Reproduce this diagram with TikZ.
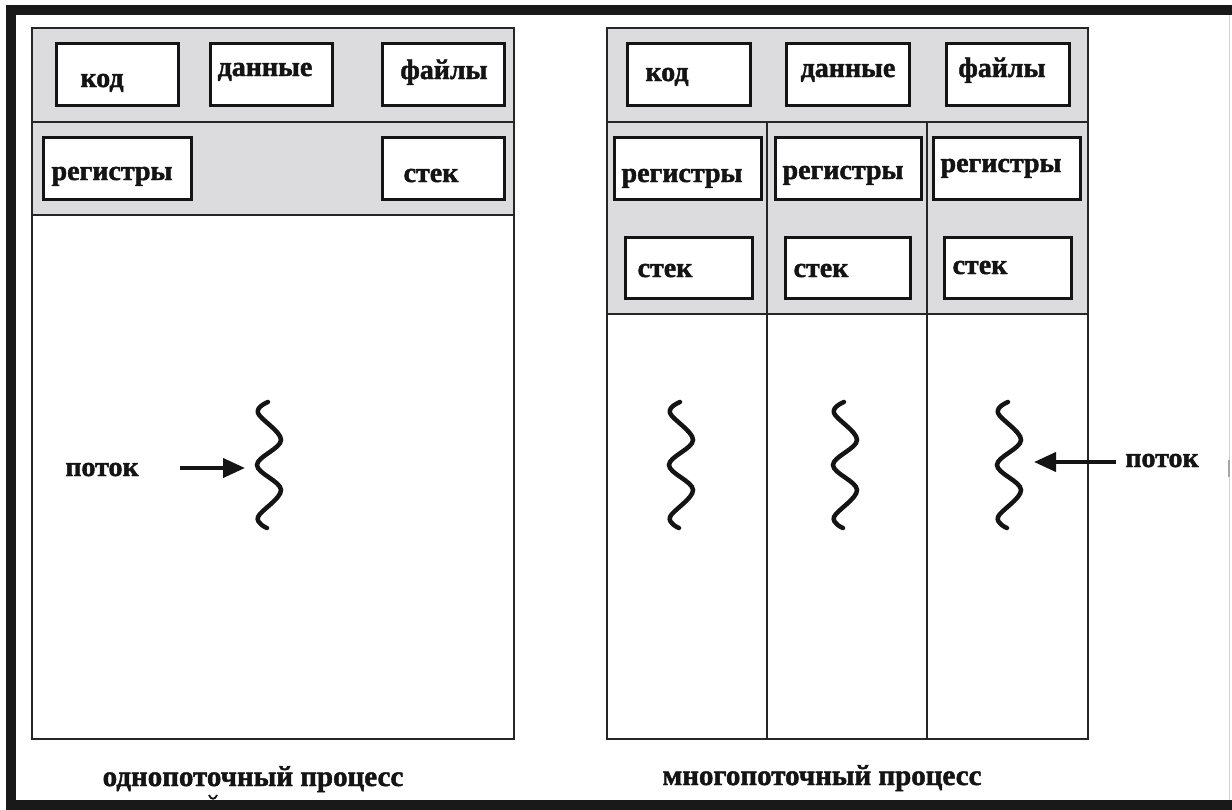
\documentclass[tikz,border=0pt]{standalone}
\usepackage{fontspec}
\setmainfont{Liberation Serif}[BoldFeatures={FakeBold=1.6}]
\usetikzlibrary{arrows.meta}
\definecolor{hdr}{RGB}{220,220,222}
\definecolor{ink}{RGB}{20,20,20}
\begin{document}
\begin{tikzpicture}[x=1pt,y=-1pt,
  proc/.style={draw=black!85,line width=2pt},
  box/.style={draw=ink,line width=3pt,fill=white,inner sep=0pt},
  lbl/.style={font=\fontsize{28}{30}\selectfont\bfseries,text=ink,anchor=base,inner sep=0pt},
  captxt/.style={font=\fontsize{29}{31}\selectfont\bfseries,text=ink,anchor=base,inner sep=0pt},
  wavy/.style={line width=4.5pt,line cap=round,draw=ink},
  arr/.style={line width=4pt,draw=ink,fill=ink,-{Triangle[length=22pt,width=19pt]}},
  wave/.pic={\draw[wavy] plot[smooth,tension=0.6] coordinates
     {(-1,-63) (-11,-52) (12,-25) (-12,0) (12,25) (-11,52) (-2,63)};}
]
\useasboundingbox (0,0) rectangle (1232,809);
\fill[white] (0,0) rectangle (1232,809);

% outer frame
\draw[gray!35,line width=1pt] (1229,15) -- (1229,800);
\draw[gray!70,line width=2pt] (1229,460) -- (1229,477);
\draw[line width=10pt,black!90] (1232,9.5) -- (11,9.5) -- (11,805) -- (1232,805);

% ---------- single-threaded process ----------
\fill[hdr] (32,28) rectangle (514,215);
\draw[proc] (32,28) rectangle (514,739);
\draw[proc] (32,122) -- (514,122);
\draw[proc] (32,215) -- (514,215);

\node[box,minimum width=122pt,minimum height=62pt] (kodL) at (117,74) {};
\node[box,minimum width=122pt,minimum height=62pt] (danL) at (271,74) {};
\node[box,minimum width=122pt,minimum height=62pt] (fajL) at (443,74) {};
\node[box,minimum width=148pt,minimum height=62pt] (regL) at (117,168) {};
\node[box,minimum width=122pt,minimum height=62pt] (stekL) at (443,168) {};

\node[lbl] (tkodL) at (102,87) {код};
\node[lbl] (tdanL) at (265,76) {данные};
\node[lbl] (tfajL) at (444,79) {файлы};
\node[lbl] (tregL) at (112,180) {регистры};
\node[lbl] (tstekL) at (431,182) {стек};

\pic (wL) at (269,465) {wave};
\node[lbl] (potokL) at (102,476) {поток};
\coordinate (aLs) at (180,468);
\coordinate (aLe) at (245,468);
\draw[arr] (aLs) -- (aLe);

\node[captxt] (capL) at (253,786) {однопоточный процесс};
\draw[line width=1.8pt,draw=ink] (209,795) .. controls (211,800) and (215,800) .. (217,795);

% ---------- multi-threaded process ----------
\fill[hdr] (607,28) rectangle (1088,314);
\draw[proc] (607,28) rectangle (1088,739);
\draw[proc] (607,122) -- (1088,122);
\draw[proc] (607,314) -- (1088,314);
\draw[proc] (767,122) -- (767,739);
\draw[proc] (927,122) -- (927,739);

\node[box,minimum width=123pt,minimum height=62pt] (kodR) at (688.5,74) {};
\node[box,minimum width=123pt,minimum height=62pt] (danR) at (847.5,74) {};
\node[box,minimum width=123pt,minimum height=62pt] (fajR) at (1007.5,74) {};
\node[box,minimum width=147pt,minimum height=62pt] (reg1) at (687.5,168) {};
\node[box,minimum width=146pt,minimum height=62pt] (reg2) at (848,168) {};
\node[box,minimum width=147pt,minimum height=62pt] (reg3) at (1006.5,168) {};
\node[box,minimum width=127pt,minimum height=61pt] (stek1) at (688.5,267.5) {};
\node[box,minimum width=125pt,minimum height=61pt] (stek2) at (847.5,267.5) {};
\node[box,minimum width=127pt,minimum height=61pt] (stek3) at (1007.5,267.5) {};

\node[lbl] (tkodR) at (667,81) {код};
\node[lbl] (tdanR) at (848,77) {данные};
\node[lbl] (tfajR) at (1002,77) {файлы};
\node[lbl] (treg1) at (682,182) {регистры};
\node[lbl] (treg2) at (843,179) {регистры};
\node[lbl] (treg3) at (1001,172) {регистры};
\node[lbl] (tstek1) at (665,277) {стек};
\node[lbl] (tstek2) at (821,277) {стек};
\node[lbl] (tstek3) at (980,274) {стек};

\pic (w1) at (681,465) {wave};
\pic (w2) at (845,465) {wave};
\pic (w3) at (1009,465) {wave};
\node[lbl] (potokR) at (1162,467) {поток};
\coordinate (aRs) at (1116,462);
\coordinate (aRe) at (1034,462);
\draw[arr] (aRs) -- (aRe);

\node[captxt] (capR) at (822,785) {многопоточный процесс};
\end{tikzpicture}
\end{document}
